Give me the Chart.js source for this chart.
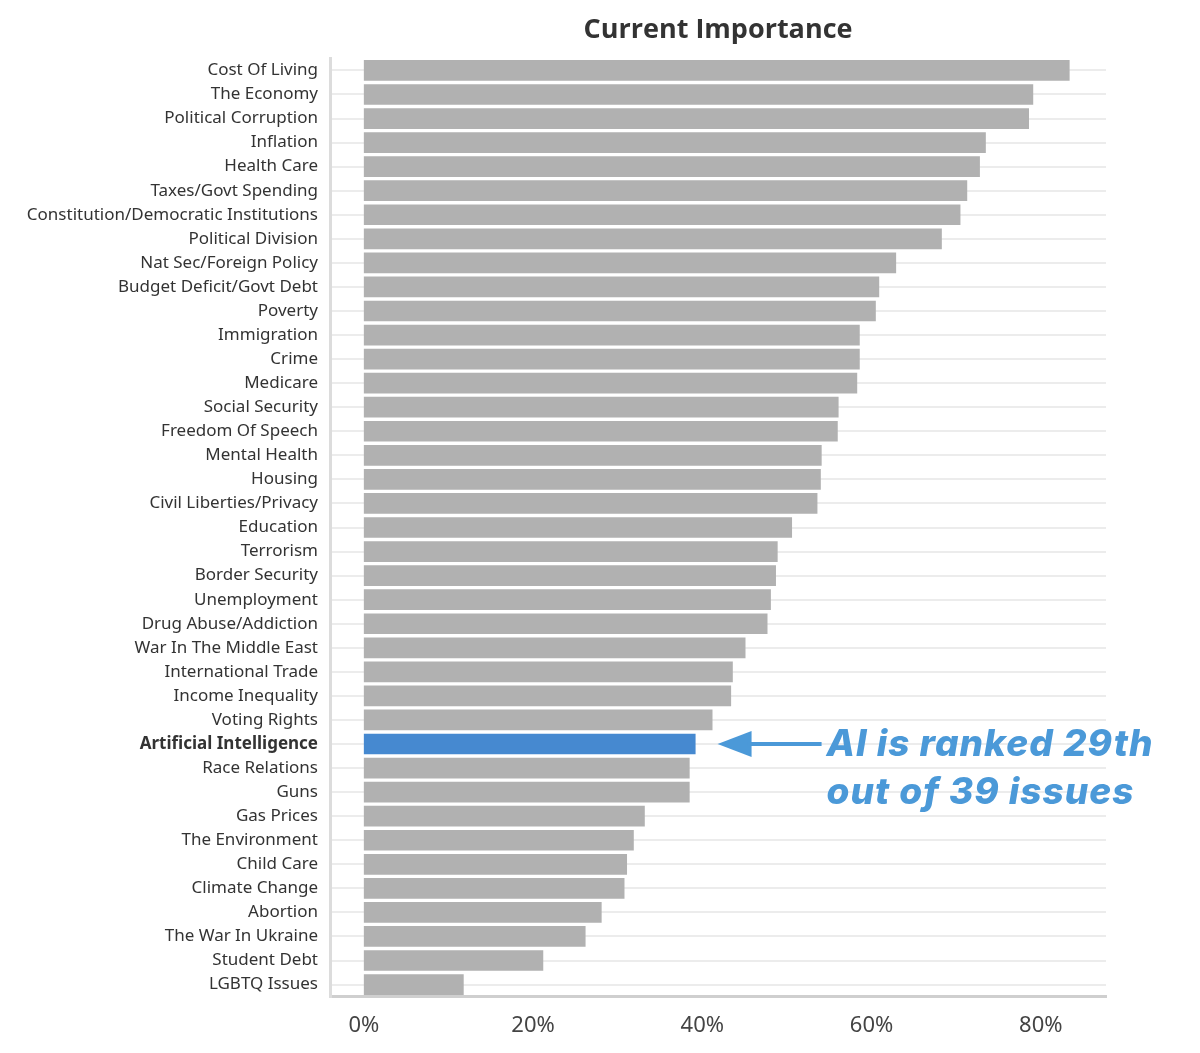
<!DOCTYPE html>
<html>
<head>
<meta charset="utf-8">
<script src="https://cdn.jsdelivr.net/npm/chart.js@4"></script>
<style>
  html, body { margin: 0; padding: 0; background: #fff; }
  #wrap { width: 1200px; height: 1053px; position: relative; }
</style>
</head>
<body>
<div id="wrap"><canvas id="myChart"></canvas></div>
<script>
// Données (part des répondants, en %)
const categories = [
  'Cost Of Living', 'The Economy', 'Political Corruption', 'Inflation', 'Health Care',
  'Taxes/Govt Spending', 'Constitution/Democratic Institutions', 'Political Division',
  'Nat Sec/Foreign Policy', 'Budget Deficit/Govt Debt', 'Poverty', 'Immigration', 'Crime',
  'Medicare', 'Social Security', 'Freedom Of Speech', 'Mental Health', 'Housing',
  'Civil Liberties/Privacy', 'Education', 'Terrorism', 'Border Security', 'Unemployment',
  'Drug Abuse/Addiction', 'War In The Middle East', 'International Trade', 'Income Inequality',
  'Voting Rights', 'Artificial Intelligence', 'Race Relations', 'Guns', 'Gas Prices',
  'The Environment', 'Child Care', 'Climate Change', 'Abortion', 'The War In Ukraine',
  'Student Debt', 'LGBTQ Issues'
];
const values = [
  83.4, 79.1, 78.6, 73.5, 72.8,
  71.3, 70.5, 68.3,
  62.9, 60.9, 60.5, 58.6, 58.6,
  58.3, 56.1, 56.0, 54.1, 54.0,
  53.6, 50.6, 48.9, 48.7, 48.1,
  47.7, 45.1, 43.6, 43.4,
  41.2, 39.2, 38.5, 38.5, 33.2,
  31.9, 31.1, 30.8, 28.1, 26.2,
  21.2, 11.8
];
const xTicks = [0, 20, 40, 60, 80];
const highlight = 'Artificial Intelligence';
const noteLines = ['AI is ranked 29th', 'out of 39 issues'];

const aiIndex = categories.indexOf(highlight);
const GREY = '#b1b1b1';
const BLUE = '#4689d0';
const NOTE_BLUE = '#4b99d8';

// Flèche + texte à côté de la barre mise en évidence
const annotation = {
  id: 'annotation',
  afterDatasetsDraw(chart) {
    const bar = chart.getDatasetMeta(0).data[aiIndex];
    if (!bar) return;
    const ctx = chart.ctx;
    const tipX = bar.x + 22;
    const y = bar.y;
    ctx.save();
    ctx.fillStyle = NOTE_BLUE;
    ctx.strokeStyle = NOTE_BLUE;
    // tête de flèche
    ctx.beginPath();
    ctx.moveTo(tipX, y);
    ctx.lineTo(tipX + 34, y - 13);
    ctx.lineTo(tipX + 34, y + 13);
    ctx.closePath();
    ctx.fill();
    // trait
    ctx.lineWidth = 4;
    ctx.beginPath();
    ctx.moveTo(tipX + 30, y);
    ctx.lineTo(tipX + 104, y);
    ctx.stroke();
    // texte
    ctx.font = 'italic 800 37px Inter';
    ctx.letterSpacing = '1px';
    ctx.textBaseline = 'middle';
    ctx.textAlign = 'left';
    ctx.fillText(noteLines[0], tipX + 109, y + 1);
    ctx.fillText(noteLines[1], tipX + 109, y + 49);
    ctx.restore();
  }
};

new Chart(document.getElementById('myChart').getContext('2d'), {
  type: 'bar',
  data: {
    labels: categories,
    datasets: [{
      data: values,
      backgroundColor: categories.map(c => c === highlight ? BLUE : GREY),
      borderWidth: 0,
      categoryPercentage: 1,
      barPercentage: 0.86
    }]
  },
  options: {
    indexAxis: 'y',
    responsive: true,
    maintainAspectRatio: false,
    animation: false,
    layout: { padding: { left: 0, right: 94, top: 0, bottom: 6 } },
    plugins: {
      legend: { display: false },
      tooltip: { enabled: false },
      title: {
        display: true,
        text: 'Current Importance',
        fullSize: false,
        color: '#333',
        font: { family: '"Open Sans"', size: 27, weight: 'bold' },
        padding: { top: 14, bottom: 12 }
      }
    },
    scales: {
      x: {
        type: 'linear',
        min: -4,
        max: 87.7,
        afterBuildTicks: (scale) => { scale.ticks = xTicks.map(v => ({ value: v })); },
        grid: { display: false },
        border: { color: '#cfcfcf', width: 3 },
        ticks: {
          color: '#444',
          padding: 8,
          font: { family: '"Noto Sans"', size: 22 },
          callback: (v) => v + '%'
        }
      },
      y: {
        type: 'category',
        afterFit: (scale) => { scale.width = 330; },
        grid: { offset: false, color: '#ececec', lineWidth: 2, drawTicks: false },
        border: { color: '#dcdcdc', width: 3 },
        ticks: {
          color: '#333',
          padding: 12,
          autoSkip: false,
          font: (ctx) => ({
            family: '"Noto Sans"',
            size: 17,
            weight: ctx.index === aiIndex ? 'bold' : 'normal'
          })
        }
      }
    }
  },
  plugins: [annotation]
});
</script>
</body>
</html>
